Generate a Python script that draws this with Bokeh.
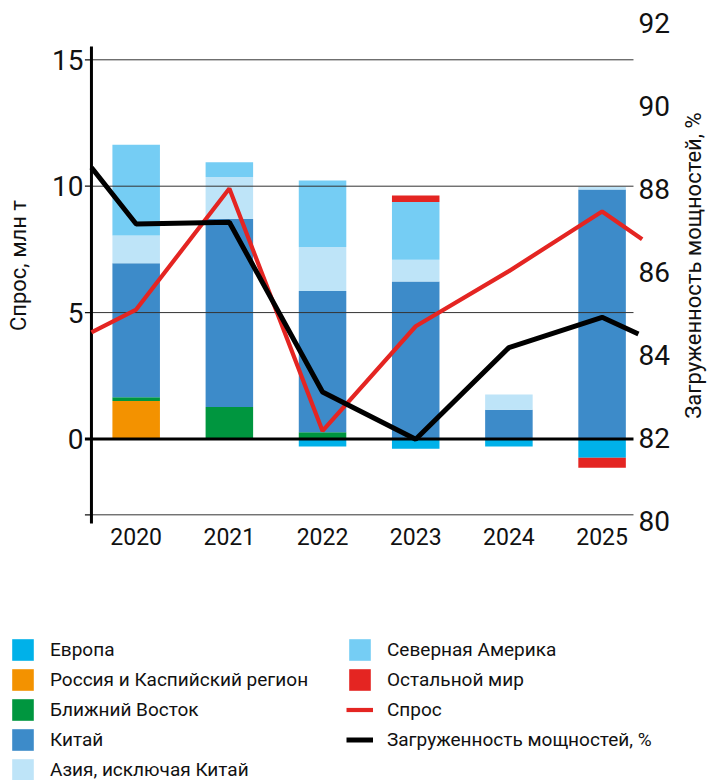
import math
import numpy as np
from bokeh.plotting import figure
from bokeh.models import (ColumnDataSource, Range1d, LinearAxis, FixedTicker,
                          Legend, LegendItem, Label)
from bokeh.embed import file_html
from bokeh.resources import INLINE

# ---- data -----------------------------------------------------------------
years = ["2020", "2021", "2022", "2023", "2024", "2025"]

# regional contributions, million tonnes
europe    = [0.00, 0.00, -0.30, -0.39, -0.30, -0.74]
russia    = [1.50, 0.00, 0.00, 0.00, 0.00, 0.00]
mideast   = [0.15, 1.27, 0.27, 0.00, 0.00, 0.00]
china     = [5.30, 7.44, 5.58, 6.23, 1.16, 9.87]
asia_ex   = [1.10, 1.65, 1.74, 0.86, 0.60, 0.11]
n_america = [3.59, 0.59, 2.64, 2.28, 0.00, 0.00]
rest      = [0.00, 0.00, 0.00, 0.26, 0.00, -0.40]

# demand line (left axis) and capacity utilisation line (right axis, %)
demand_x = [-0.48, 0, 1, 2, 3, 4, 5, 5.43]
demand   = [4.22, 5.12, 9.91, 0.32, 4.46, 6.64, 9.00, 7.90]
util_x   = [-0.48, 0, 1, 2, 3, 4, 5, 5.39]
util     = [88.53, 87.17, 87.21, 83.12, 81.98, 84.19, 84.92, 84.52]

left_ticks = [0, 5, 10, 15]
grid_vals = [15, 10, 5, -3]
right_ticks = [80, 82, 84, 86, 88, 90, 92]

# ---- styling --------------------------------------------------------------
FONT = "Roboto"
TXT = "#111111"
C_EUROPE = "#00b1e9"
C_RUSSIA = "#f39200"
C_MIDEAST = "#00963f"
C_CHINA = "#3d8bc9"
C_ASIA = "#bee4f8"
C_NAM = "#75cdf4"
C_REST = "#e42522"

# the plotting area covers the whole canvas; axes are pinned inside it
X_RANGE = (-1.456, 6.142)
Y_RANGE = (-13.51, 17.346)
UTIL_RANGE = (73.759, 92.554)
LEFT_AXIS_AT = -0.555
RIGHT_AXIS_AT = 5.455
BOTTOM_AXIS_AT = -3.26

AXIS_X = -0.48     # vertical axis line
GRID_END = 5.337   # right end of the horizontal rules
TICK_START = -0.55

series = [
    ("Европа", europe, C_EUROPE),
    ("Россия и Каспийский регион", russia, C_RUSSIA),
    ("Ближний Восток", mideast, C_MIDEAST),
    ("Китай", china, C_CHINA),
    ("Азия, исключая Китай", asia_ex, C_ASIA),
    ("Северная Америка", n_america, C_NAM),
    ("Остальной мир", rest, C_REST),
]

p = figure(width=708, height=780,
           x_range=Range1d(*X_RANGE), y_range=Range1d(*Y_RANGE),
           x_axis_location=None, y_axis_location=None,
           output_backend="svg", toolbar_location=None, min_border=0)
p.extra_y_ranges = {"util": Range1d(*UTIL_RANGE)}
p.grid.visible = False
p.outline_line_color = None
p.background_fill_color = "white"
p.border_fill_color = "white"

# stacked columns: positives build upward from zero, negatives downward
xs = np.arange(len(years))
pos_base = np.zeros(len(years))
neg_base = np.zeros(len(years))
bar_renderers = {}
for name, vals, color in series:
    v = np.asarray(vals, dtype=float)
    bottom = np.where(v >= 0, pos_base, neg_base)
    top = bottom + v
    keep = v != 0
    src = ColumnDataSource(dict(x=xs[keep], bottom=bottom[keep], top=top[keep]))
    bar_renderers[name] = p.vbar(x="x", bottom="bottom", top="top", width=0.51,
                                 source=src, fill_color=color, line_color=None)
    pos_base = pos_base + np.clip(v, 0, None)
    neg_base = neg_base + np.clip(v, None, 0)

# horizontal rules, left-hand tick marks, zero line and axis line
p.segment(x0=AXIS_X, x1=GRID_END, y0=grid_vals, y1=grid_vals,
          line_color="#333333", line_width=1)
p.segment(x0=TICK_START, x1=AXIS_X, y0=grid_vals, y1=grid_vals,
          line_color="#111111", line_width=1.2)
p.segment(x0=TICK_START, x1=GRID_END, y0=0, y1=0,
          line_color="black", line_width=3)
p.segment(x0=AXIS_X, x1=AXIS_X, y0=-3.34, y1=15.53,
          line_color="black", line_width=3)

# lines
r_demand = p.line(demand_x, demand, line_color=C_REST, line_width=4.2)
r_util = p.line(util_x, util, y_range_name="util", line_color="black", line_width=5)

# axes
def style_axis(ax, size):
    ax.axis_line_color = None
    ax.major_tick_line_color = None
    ax.minor_tick_line_color = None
    ax.major_tick_out = 0
    ax.major_tick_in = 0
    ax.major_label_text_font = FONT
    ax.major_label_text_font_size = size
    ax.major_label_text_color = TXT

xa = LinearAxis(ticker=FixedTicker(ticks=list(range(len(years)))),
                major_label_overrides={i: y for i, y in enumerate(years)})
style_axis(xa, "23px")
xa.major_label_standoff = 7
xa.fixed_location = BOTTOM_AXIS_AT
p.add_layout(xa, "below")

ya = LinearAxis(ticker=FixedTicker(ticks=left_ticks))
style_axis(ya, "28px")
ya.major_label_standoff = 1
ya.fixed_location = LEFT_AXIS_AT
p.add_layout(ya, "left")

ra = LinearAxis(y_range_name="util", ticker=FixedTicker(ticks=right_ticks))
style_axis(ra, "28px")
ra.major_label_standoff = -6
ra.fixed_location = RIGHT_AXIS_AT
p.add_layout(ra, "right")

# axis titles, both reading upward
def axis_title(text, x, y):
    p.add_layout(Label(x=x, y=y, text=text, angle=math.pi / 2,
                       text_align="center", text_baseline="middle",
                       text_font=FONT, text_font_size="22px", text_color=TXT))

axis_title("Спрос, млн т", -1.263, 6.86)
axis_title("Загруженность мощностей, %", 5.981, 6.86)

# ---- legends under the chart ------------------------------------------------
def make_legend(items, loc):
    lg = Legend(items=items, location=loc, orientation="vertical",
                glyph_width=27, glyph_height=27, label_height=22,
                spacing=3, padding=0, margin=0, label_standoff=14,
                label_text_font=FONT, label_text_font_size="19px",
                label_text_color=TXT, border_line_color=None,
                background_fill_alpha=0)
    p.add_layout(lg, "center")

col1 = [LegendItem(label=n, renderers=[bar_renderers[n]]) for n, _, _ in series[:5]]
col2 = [LegendItem(label=n, renderers=[bar_renderers[n]]) for n, _, _ in series[5:]]
col2 += [LegendItem(label="Спрос", renderers=[r_demand]),
         LegendItem(label="Загруженность мощностей, %", renderers=[r_util])]
make_legend(col1, (9, -3))
make_legend(col2, (346, 27))

open("out.html", "w").write(file_html(p, INLINE))
